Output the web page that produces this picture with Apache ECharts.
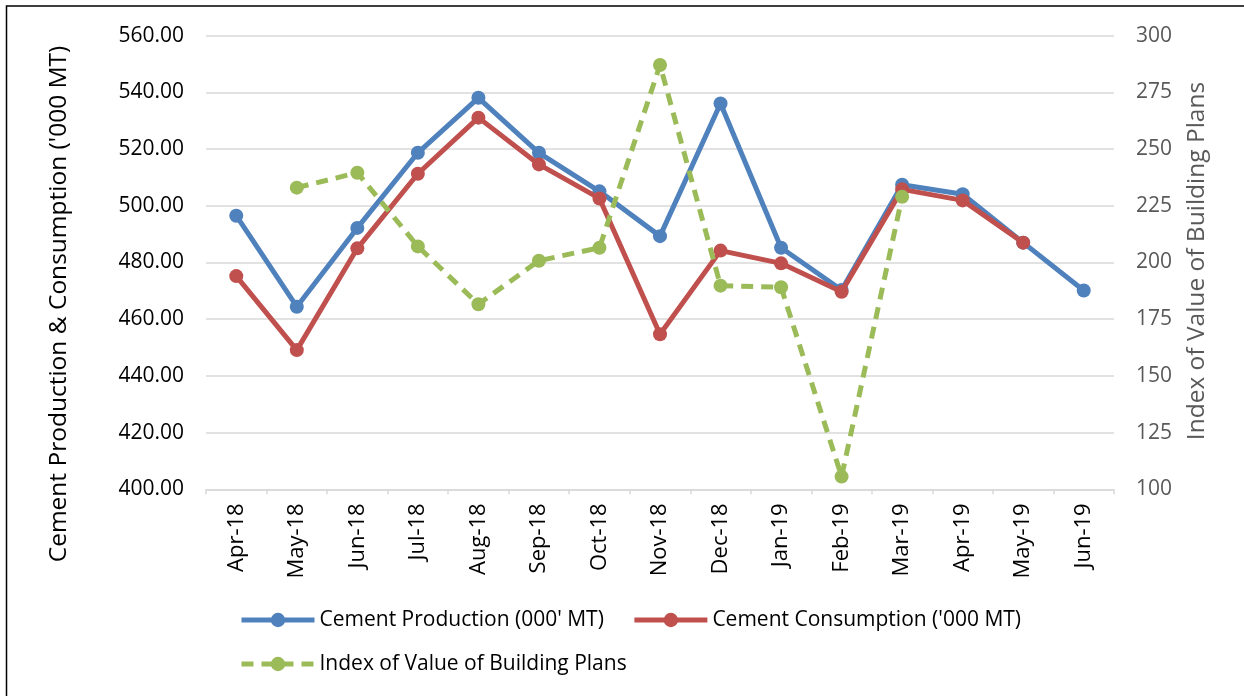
<!DOCTYPE html>
<html>
<head>
<meta charset="utf-8">
<script src="https://cdn.jsdelivr.net/npm/echarts@6/dist/echarts.min.js"></script>
<style>
html,body{margin:0;padding:0;background:#fff;}
#chart{width:1244px;height:696px;}
</style>
</head>
<body>
<div id="chart"></div>
<script>
const categories = ['Apr-18','May-18','Jun-18','Jul-18','Aug-18','Sep-18','Oct-18','Nov-18','Dec-18','Jan-19','Feb-19','Mar-19','Apr-19','May-19','Jun-19'];
const production = [496.5, 464.4, 492.2, 518.7, 538.1, 518.7, 505.1, 489.3, 536.1, 485.2, 470.3, 507.4, 504.1, 487.0, 470.1];
const consumption = [475.2, 449.1, 485.0, 511.3, 531.1, 514.6, 502.6, 454.7, 484.2, 479.7, 469.7, 505.8, 501.9, 487.0, null];
const buildingIndex = [null, 233.0, 239.6, 207.1, 181.6, 200.8, 206.5, 287.1, 189.8, 189.1, 105.6, 229.0, null, null, null];
const leftTicks = {min: 400, max: 560, interval: 20};
const rightTicks = {min: 100, max: 300, interval: 25};
const leftTitle = 'Cement Production & Consumption (\'000 MT)';
const rightTitle = 'Index of Value of Building Plans';

const FONT = '"Open Sans", "Noto Sans", sans-serif';
const chart = echarts.init(document.getElementById('chart'), null, {renderer: 'canvas'});
const gridColor = '#d9d9d9';

chart.setOption({
  animation: false,
  backgroundColor: '#ffffff',
  textStyle: {fontFamily: FONT},
  graphic: [{
    type: 'rect',
    shape: {x: 6.5, y: 6, width: 1300, height: 800},
    style: {fill: 'none', stroke: '#000', lineWidth: 1.5},
    silent: true
  }, {
    type: 'text',
    x: 59, y: 304, rotation: Math.PI / 2,
    style: {text: leftTitle, fontSize: 24.5, fontFamily: FONT, fill: '#000',
      textAlign: 'center', textVerticalAlign: 'middle'},
    silent: true
  }, {
    type: 'text',
    x: 1197, y: 261, rotation: Math.PI / 2,
    style: {text: rightTitle, fontSize: 24.5, fontFamily: FONT, fill: '#595959',
      textAlign: 'center', textVerticalAlign: 'middle'},
    silent: true
  }],
  grid: {left: 206, right: 130, top: 35.7, bottom: 206.7, containLabel: false},
  legend: [{
    data: ['Cement Production (000\' MT)', 'Cement Consumption (\'000 MT)'],
    left: 239, top: 609.5, padding: 0,
    itemWidth: 73, itemHeight: 18, itemGap: 28,
    lineStyle: {width: 5},
    textStyle: {fontSize: 21, color: '#000', fontFamily: FONT}
  }, {
    data: ['Index of Value of Building Plans'],
    left: 239, top: 653.5, padding: 0,
    itemWidth: 73, itemHeight: 18,
    lineStyle: {width: 5},
    textStyle: {fontSize: 21, color: '#000', fontFamily: FONT}
  }],
  xAxis: {
    type: 'category',
    data: categories,
    boundaryGap: true,
    axisLine: {show: true, lineStyle: {color: gridColor, width: 1.5}},
    axisTick: {show: true, length: 5, lineStyle: {color: gridColor, width: 1.5}},
    axisLabel: {rotate: 90, fontSize: 22, color: '#000', margin: 14, fontFamily: FONT, interval: 0},
    splitLine: {show: false}
  },
  yAxis: [{
    type: 'value',
    min: leftTicks.min, max: leftTicks.max, interval: leftTicks.interval,
    position: 'left',
    axisLine: {show: false},
    axisTick: {show: false},
    axisLabel: {fontSize: 21, color: '#000', margin: 22, fontFamily: FONT,
      formatter: v => v.toFixed(2)},
    splitLine: {show: true, lineStyle: {color: gridColor, width: 1.5}}
  }, {
    type: 'value',
    min: rightTicks.min, max: rightTicks.max, interval: rightTicks.interval,
    position: 'right',
    axisLine: {show: false},
    axisTick: {show: false},
    axisLabel: {fontSize: 21, color: '#595959', margin: 22, fontFamily: FONT},
    splitLine: {show: false}
  }],
  series: [{
    name: 'Cement Production (000\' MT)',
    type: 'line',
    data: production,
    yAxisIndex: 0,
    symbol: 'circle', symbolSize: 14,
    lineStyle: {color: '#4F81BD', width: 5},
    itemStyle: {color: '#4F81BD'},
    z: 3
  }, {
    name: 'Cement Consumption (\'000 MT)',
    type: 'line',
    data: consumption,
    yAxisIndex: 0,
    symbol: 'circle', symbolSize: 14,
    lineStyle: {color: '#C0504D', width: 5},
    itemStyle: {color: '#C0504D'},
    z: 4
  }, {
    name: 'Index of Value of Building Plans',
    type: 'line',
    data: buildingIndex,
    yAxisIndex: 1,
    symbol: 'circle', symbolSize: 14,
    lineStyle: {color: '#9BBB59', width: 5, type: [12, 8]},
    itemStyle: {color: '#9BBB59'},
    z: 5
  }]
});
</script>
</body>
</html>
